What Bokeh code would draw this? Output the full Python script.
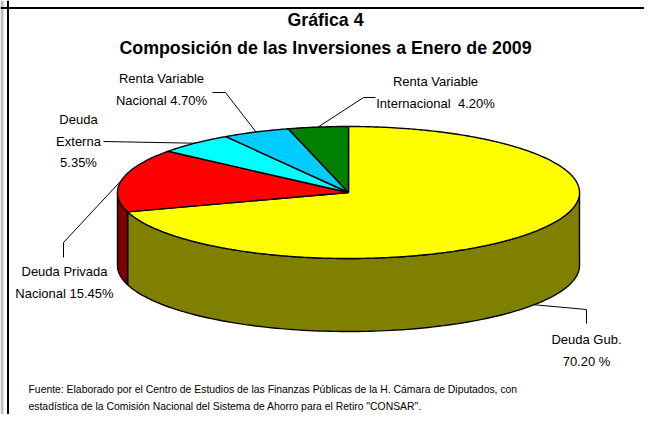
import numpy as np
from bokeh.plotting import figure
from bokeh.models import Range1d, Span
from bokeh.core.properties import value
from bokeh.embed import file_html
from bokeh.resources import INLINE

# ---------------- data ----------------
categories = ["Deuda Gub.", "Deuda Privada Nacional", "Deuda Externa",
              "Renta Variable Nacional", "Renta Variable Internacional"]
shares = [70.20, 15.45, 5.35, 4.70, 4.20]
label_texts = ["Deuda Gub.\n70.20 %",
               "Deuda Privada\nNacional 15.45%",
               "Deuda\nExterna\n5.35%",
               "Renta Variable\nNacional 4.70%",
               "Renta Variable\nInternacional\u00a0 4.20%"]
title1 = "Gráfica 4"
title2 = "Composición de las Inversiones a Enero de 2009"
source_lines = ["Fuente: Elaborado por el Centro de Estudios de las Finanzas Públicas de la H. Cámara de Diputados, con",
                "estadística de la Comisión Nacional del Sistema de Ahorro para el Retiro \"CONSAR\"."]

# ---------------- styles / layout ----------------
top_colors = ["#FFFF00", "#FF0000", "#00FFFF", "#00CCFF", "#008000"]
side_colors = ["#808000", "#800000", "#008080", "#006680", "#004000"]
CX, CY, RX, RY, DEPTH = 348.0, 192.0, 231.0, 66.0, 73.0
FONT = "Liberation Sans"
LINE_H = 21.5
# label placement: (center x, first line y), elbow points of the leader line (from label side)
label_pos = [(586, 339), (64, 271), (78, 119), (161, 78), (435, 81)]
elbows = [[(586, 323), (586, 309)],
          [(63, 257), (63, 242)],
          [(103, 141)],
          [(212, 92), (225, 92)],
          [(375, 97), (363, 97)]]

W, H = 644, 414
p = figure(width=W, height=H, output_backend="svg", toolbar_location=None,
           x_range=Range1d(0, W), y_range=Range1d(H, 0),
           min_border=0, background_fill_color="white", border_fill_color="white")
p.axis.visible = False
p.grid.visible = False
p.outline_line_color = None

# frame border (top and left visible as in the reference) and grey edge strip
p.add_layout(Span(location=1.5, dimension="height", line_color="#C0C0C0", line_width=3))
p.add_layout(Span(location=7.5, dimension="width", line_color="black", line_width=2))
p.add_layout(Span(location=7.5, dimension="height", line_color="black", line_width=2))


def ell(theta_deg, dy=0.0):
    t = np.radians(theta_deg)
    return CX + RX * np.sin(t), CY - RY * np.cos(t) + dy


total = sum(shares)
starts = []
acc = 0.0
for v in shares:
    starts.append(acc / total * 360.0)
    acc += v
ends = starts[1:] + [360.0]

# side walls (front half only: 90..270 degrees clockwise from 12 o'clock)
sxs, sys_, scol = [], [], []
for a0, a1, c in zip(starts, ends, side_colors):
    s0, s1 = max(a0, 90.0), min(a1, 270.0)
    if s1 <= s0:
        continue
    th = np.linspace(s0, s1, 120)
    xt, yt = ell(th)
    xb, yb = ell(th[::-1], DEPTH)
    sxs.append(list(np.concatenate([xt, xb])))
    sys_.append(list(np.concatenate([yt, yb])))
    scol.append(c)
p.patches(xs=sxs, ys=sys_, fill_color=scol, line_color="black", line_width=1.4)

# top faces
txs, tys = [], []
for a0, a1 in zip(starts, ends):
    th = np.linspace(a0, a1, max(8, int((a1 - a0) * 2)))
    x, y = ell(th)
    txs.append([CX] + list(x) + [CX])
    tys.append([CY] + list(y) + [CY])
p.patches(xs=txs, ys=tys, fill_color=top_colors, line_color="black", line_width=1.4)

# leader lines
lxs, lys = [], []
for a0, a1, el in zip(starts, ends, elbows):
    mid = (a0 + a1) / 2.0
    dy = DEPTH if 90.0 <= mid <= 270.0 else 0.0
    ax, ay = ell(mid, dy)
    lxs.append([e[0] for e in el] + [float(ax)])
    lys.append([e[1] for e in el] + [float(ay)])
p.multi_line(xs=lxs, ys=lys, line_color="black", line_width=1)

# labels
tx, ty, tt = [], [], []
for txt, (lx, ly) in zip(label_texts, label_pos):
    for i, line in enumerate(txt.split("\n")):
        tx.append(lx)
        ty.append(ly + i * LINE_H)
        tt.append(line)
p.text(x=tx, y=ty, text=tt, text_font=value(FONT), text_font_size="13px",
       text_align="center", text_baseline="middle", text_color="black")

# titles
p.text(x=[325, 325], y=[19, 47], text=[title1, title2], text_font=value(FONT),
       text_font_size="17.8px", text_font_style="bold", text_align="center",
       text_baseline="middle", text_color="black")

# source note
p.text(x=[28, 28], y=[389, 406], text=source_lines, text_font=value(FONT),
       text_font_size="10.4px", text_align="left", text_baseline="middle",
       text_color="black")

open("out.html", "w").write(file_html(p, INLINE))
